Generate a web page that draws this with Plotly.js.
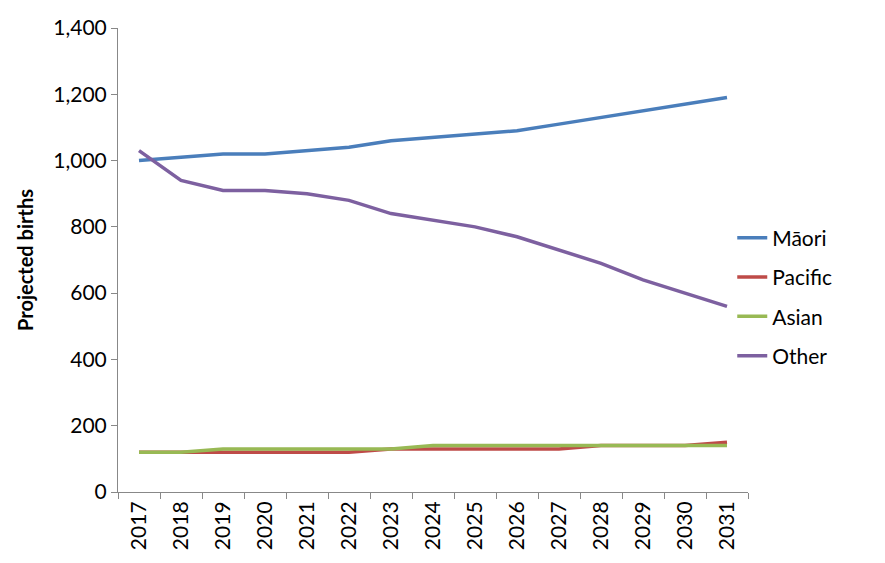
<!DOCTYPE html>
<html>
<head>
<meta charset="utf-8">
<script src="https://cdn.plot.ly/plotly-3.0.1.min.js"></script>
<style>body{margin:0;background:#fff}#chart{width:885px;height:563px}</style>
</head>
<body>
<div id="chart"></div>
<script>
const years = ["2017","2018","2019","2020","2021","2022","2023","2024","2025","2026","2027","2028","2029","2030","2031"];
const maori = [1000,1010,1020,1020,1030,1040,1060,1070,1080,1090,1110,1130,1150,1170,1190];
const pacific = [120,120,120,120,120,120,130,130,130,130,130,140,140,140,150];
const asian = [120,120,130,130,130,130,130,140,140,140,140,140,140,140,140];
const other = [1030,940,910,910,900,880,840,820,800,770,730,690,640,600,560];

const series = [
  { name: "Māori", y: maori, color: "#4a7ebb" },
  { name: "Pacific", y: pacific, color: "#be4b48" },
  { name: "Asian", y: asian, color: "#98b954" },
  { name: "Other", y: other, color: "#7d60a0" },
];

const traces = series.map((s) => ({
  x: years, y: s.y, name: s.name, legendgroup: s.name, type: "scatter", mode: "lines",
  line: { color: s.color, width: 3.5 },
}));

const axisFont = { family: "Lato, 'Open Sans', sans-serif", size: 21, color: "#000" };

const layout = {
  width: 885, height: 563,
  margin: { l: 118, r: 137, t: 28, b: 71 },
  paper_bgcolor: "#fff", plot_bgcolor: "#fff",
  font: axisFont,
  showlegend: true,
  legend: { x: 0.975, xanchor: "left", y: 0.42, yanchor: "middle", font: axisFont, tracegroupgap: 9 },
  xaxis: {
    type: "category", tickangle: -90, tickson: "boundaries", ticks: "outside", ticklen: 6,
    showline: true, linecolor: "#888", tickcolor: "#888", showgrid: false, zeroline: false,
    range: [-0.5, 14.5], tickfont: axisFont,
  },
  yaxis: {
    range: [0, 1400], dtick: 200, tickformat: ",d", ticks: "outside", ticklen: 6,
    showline: true, linecolor: "#888", tickcolor: "#888", showgrid: false, zeroline: false,
    tickfont: axisFont,
    title: { text: "<b>Projected births</b>", font: { family: axisFont.family, size: 20, color: "#000" }, standoff: 14 },
  },
};

Plotly.newPlot("chart", traces, layout, { displayModeBar: false });
</script>
</body>
</html>
